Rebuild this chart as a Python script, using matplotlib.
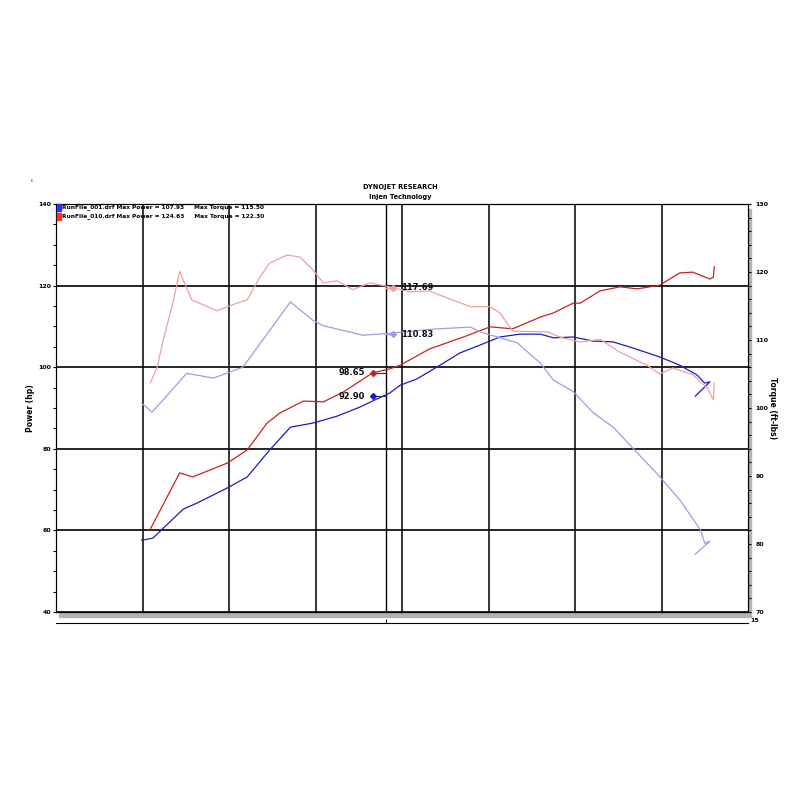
import matplotlib
matplotlib.use("Agg")
import matplotlib.pyplot as plt
from matplotlib.patches import Rectangle

# grid units along the run (no labels on the original x axis)
grid_x = [1, 2, 3, 4, 5, 6, 7]
cursor_x = 3.81

# RunFile_010 (red) power, hp
red_pwr_x = [1.09, 1.43, 1.58, 1.98, 2.21, 2.44, 2.59, 2.86, 3.09, 3.32,
             3.66, 3.86, 3.98, 4.32, 4.71, 5.02, 5.28, 5.60, 5.75, 5.98,
             6.06, 6.29, 6.52, 6.72, 6.98, 7.21, 7.36, 7.56, 7.60, 7.61]
red_pwr = [60.3, 74.1, 73.1, 76.5, 79.7, 86.3, 88.8, 91.7, 91.5, 93.9,
           98.6, 99.6, 100.5, 104.5, 107.4, 109.9, 109.4, 112.3, 113.3, 115.7,
           115.7, 118.7, 119.7, 119.2, 120.1, 123.1, 123.3, 121.6, 122.1, 124.6]

# RunFile_001 (blue) power, hp
blue_pwr_x = [0.99, 1.12, 1.47, 1.63, 1.98, 2.21, 2.47, 2.71, 2.97, 3.25,
              3.51, 3.86, 3.98, 4.17, 4.44, 4.67, 4.90, 5.13, 5.36, 5.60,
              5.75, 5.98, 6.21, 6.44, 6.67, 6.98, 7.21, 7.41, 7.50, 7.56, 7.39]
blue_pwr = [57.6, 58.1, 65.2, 66.7, 70.4, 73.1, 79.7, 85.3, 86.3, 88.0,
            90.2, 93.7, 95.6, 97.1, 100.5, 103.5, 105.4, 107.4, 108.1, 108.1,
            107.2, 107.4, 106.4, 106.2, 104.7, 102.5, 100.5, 98.1, 96.1, 96.4, 92.9]

# RunFile_010 (red) torque, ft-lbs
red_trq_x = [1.09, 1.17, 1.24, 1.35, 1.43, 1.47, 1.57, 1.86, 2.09, 2.21,
             2.36, 2.47, 2.67, 2.82, 2.97, 3.09, 3.25, 3.43, 3.63, 3.86,
             4.09, 4.32, 4.52, 4.79, 5.02, 5.13, 5.28, 5.68, 5.83, 6.06,
             6.29, 6.52, 6.83, 6.98, 7.13, 7.36, 7.53, 7.60, 7.61]
red_trq = [103.7, 106.0, 110.0, 115.4, 120.1, 118.8, 115.9, 114.3, 115.4, 115.9,
           119.3, 121.3, 122.5, 122.2, 120.3, 118.4, 118.7, 117.4, 118.4, 117.8,
           117.1, 117.2, 116.2, 114.9, 114.9, 114.0, 111.3, 111.2, 110.4, 109.7,
           110.1, 108.2, 106.3, 105.0, 105.9, 104.9, 102.9, 101.2, 103.7]

# RunFile_001 (blue) torque, ft-lbs
blue_trq_x = [0.99, 1.11, 1.24, 1.51, 1.82, 2.16, 2.39, 2.71, 2.97, 3.09,
              3.55, 3.86, 4.36, 4.79, 4.90, 5.33, 5.60, 5.75, 5.98, 6.21,
              6.44, 6.72, 6.98, 7.21, 7.45, 7.50, 7.56, 7.39]
blue_trq = [100.7, 99.4, 101.2, 105.1, 104.4, 106.0, 110.0, 115.6, 112.9, 112.1,
            110.7, 111.0, 111.6, 111.9, 111.2, 109.6, 106.6, 104.1, 102.4, 99.3,
            97.2, 93.4, 89.9, 86.5, 82.1, 80.1, 80.4, 78.5]

# cursor readouts
cursor_pwr = [98.65, 92.90]
cursor_trq = [117.69, 110.83]

legend_lines = ["RunFile_001.drf Max Power = 107.93     Max Torque = 115.50",
                "RunFile_010.drf Max Power = 124.63     Max Torque = 122.30"]

c_red = "#cc2020"
c_blue = "#1c1cc0"
c_lred = "#eea0a0"
c_lblue = "#9c9ce8"

fig = plt.figure(figsize=(8, 8), dpi=100)
ax = fig.add_axes([0.07, 0.235, 0.865, 0.51])
ax.set_facecolor("white")

# drop shadow of the plot frame
fig.patches.append(Rectangle((0.07 + 0.004, 0.235 - 0.006), 0.865, 0.51,
                             transform=fig.transFigure, color="#b4b4b4", zorder=-1))

ax.set_xlim(0, 8)
ax.set_ylim(40, 140)
ax.set_yticks([40, 60, 80, 100, 120, 140])
ax.set_yticks(range(40, 141, 5), minor=True)
ax.yaxis.grid(True, color="black", lw=1.2)
for gx in grid_x:
    ax.axvline(gx, color="#262626", lw=1.3, zorder=1)
ax.axvline(cursor_x, color="black", lw=1.0, zorder=1)
ax.axhline(40, color="black", lw=0.9, clip_on=False)

for s in ["top", "left", "right"]:
    ax.spines[s].set_linewidth(0.8)
ax.spines["bottom"].set_position(("outward", 8))
ax.spines["bottom"].set_linewidth(0.8)
ax.set_xticks([cursor_x])
ax.set_xticklabels([])
ax.tick_params(axis="x", direction="in", length=3, width=0.8)
ax.tick_params(axis="y", which="both", direction="out", length=2.5, width=0.8,
               labelsize=4.5, pad=1)
for lab in ax.get_yticklabels():
    lab.set_fontweight("bold")
ax.set_ylabel("Power (hp)", fontsize=5.5, fontweight="bold", labelpad=2)

ax.plot(blue_pwr_x, blue_pwr, color=c_blue, lw=0.9, zorder=3)
ax.plot(red_pwr_x, red_pwr, color=c_red, lw=0.9, zorder=3)

ax2 = ax.twinx()
ax2.set_ylim(70, 130)
ax2.set_yticks(range(70, 131, 10))
ax2.set_yticks(range(70, 131, 2), minor=True)
ax2.tick_params(axis="y", which="both", direction="out", length=2.5, width=0.8,
                labelsize=4.5, pad=3)
for lab in ax2.get_yticklabels():
    lab.set_fontweight("bold")
for s in ["top", "left", "right"]:
    ax2.spines[s].set_linewidth(0.8)
ax2.spines["bottom"].set_visible(False)
ax2.set_ylabel("Torque (ft-lbs)", fontsize=5.5, fontweight="bold",
               rotation=270, labelpad=6)

ax2.plot(blue_trq_x, blue_trq, color=c_lblue, lw=0.9, zorder=3)
ax2.plot(red_trq_x, red_trq, color=c_lred, lw=0.9, zorder=3)

# cursor readouts: power to the left of the cursor, torque to the right
for val, col in zip(cursor_pwr, [c_red, c_blue]):
    ax.plot([3.66, cursor_x], [val, val], color="#333333", lw=0.8, zorder=4)
    ax.plot(3.66, val, marker="D", ms=3, color=col, zorder=5)
    ax.text(3.57, val, f"{val:.2f}", fontsize=6, fontweight="bold",
            color="#111111", ha="right", va="center")
for val, col in zip(cursor_trq, [c_lred, c_lblue]):
    ax2.plot([cursor_x, 3.90], [val, val], color=col, lw=1.0, zorder=4)
    ax2.plot(3.90, val, marker="D", ms=3, color=col, zorder=5)
    ax2.text(3.99, val, f"{val:.2f}", fontsize=6, fontweight="bold",
             color="#111111", ha="left", va="center")

# legend block in the top left corner
for i, (txt, col) in enumerate(zip(legend_lines, ["#3030ff", "#ff3030"])):
    yy = 0.741 - i * 0.0115
    fig.patches.append(Rectangle((0.0715, yy - 0.0045), 0.0045, 0.009,
                                 transform=fig.transFigure, color=col, zorder=5))
    fig.text(0.078, yy, txt, fontsize=4.2, fontweight="bold",
             va="center", ha="left")

fig.text(0.5, 0.766, "DYNOJET RESEARCH", fontsize=4.8, fontweight="bold",
         ha="center", va="center")
fig.text(0.5, 0.754, "Injen Technology", fontsize=4.8, fontweight="bold",
         ha="center", va="center")
fig.text(0.938, 0.225, "15", fontsize=4.5, fontweight="bold", va="center")
fig.text(0.038, 0.775, "ı", fontsize=4.5, va="center")

fig.savefig("out.png", dpi=100, facecolor="white")
